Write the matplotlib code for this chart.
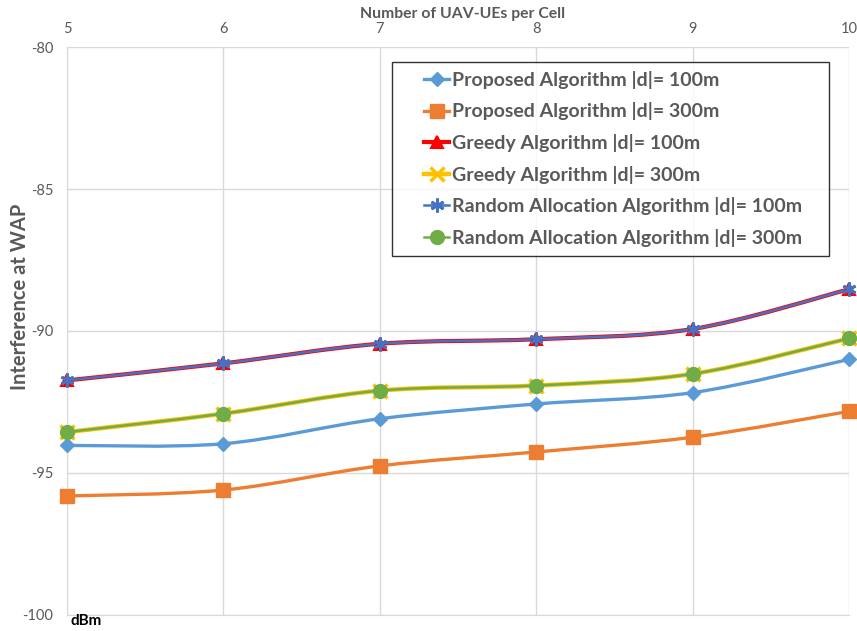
import numpy as np
import matplotlib
matplotlib.use("Agg")
import matplotlib.pyplot as plt
from matplotlib.path import Path
from matplotlib.patches import PathPatch
from matplotlib.lines import Line2D
from matplotlib.legend_handler import HandlerLine2D

plt.rcParams['font.family'] = ['Lato', 'DejaVu Sans']
plt.rcParams['axes.unicode_minus'] = False

# Number of UAV-UEs per cell
users = [5, 6, 7, 8, 9, 10]

# Interference at WAP (dBm)
proposed_100 = [-94.03, -93.97, -93.09, -92.57, -92.17, -91.00]
proposed_300 = [-95.81, -95.60, -94.75, -94.26, -93.74, -92.83]
greedy_100 = [-91.74, -91.14, -90.45, -90.29, -89.93, -88.53]
greedy_300 = [-93.56, -92.91, -92.10, -91.92, -91.51, -90.26]
random_100 = [-91.74, -91.14, -90.45, -90.29, -89.93, -88.53]
random_300 = [-93.56, -92.91, -92.10, -91.92, -91.51, -90.26]

labels = ['Proposed Algorithm |d|= 100m', 'Proposed Algorithm |d|= 300m',
          'Greedy Algorithm |d|= 100m', 'Greedy Algorithm |d|= 300m',
          'Random Allocation Algorithm |d|= 100m', 'Random Allocation Algorithm |d|= 300m']


def smooth_path(x, y, k=1/6):
    # Bezier segments through every point, like a spreadsheet "smoothed line"
    x = np.asarray(x, float)
    y = np.asarray(y, float)
    verts = [(x[0], y[0])]
    codes = [Path.MOVETO]
    n = len(x)
    for i in range(n - 1):
        p0 = (x[max(i - 1, 0)], y[max(i - 1, 0)])
        p1 = (x[i], y[i])
        p2 = (x[i + 1], y[i + 1])
        p3 = (x[min(i + 2, n - 1)], y[min(i + 2, n - 1)])
        c1 = (p1[0] + (p2[0] - p0[0]) * k, p1[1] + (p2[1] - p0[1]) * k)
        c2 = (p2[0] - (p3[0] - p1[0]) * k, p2[1] - (p3[1] - p1[1]) * k)
        verts += [c1, c2, p2]
        codes += [Path.CURVE4] * 3
    return Path(verts, codes)


class RightHandler(HandlerLine2D):
    # draw the legend key only in the right part of the handle box
    seg = 18.0

    def create_artists(self, legend, orig_handle, xdescent, ydescent,
                       width, height, fontsize, trans):
        shift = width - self.seg
        return super().create_artists(legend, orig_handle, xdescent - shift, ydescent,
                                      self.seg, height, fontsize, trans)


fig = plt.figure(figsize=(8.57, 6.31), dpi=100)
ax = fig.add_axes([0.0782, 0.0254, 0.9125, 0.9001])

series = [
    (proposed_100, '#5B9BD5', 2.4, dict(marker='D', ms=7, mfc='#5B9BD5', mec='#5B9BD5')),
    (proposed_300, '#ED7D31', 2.4, dict(marker='s', ms=10, mfc='#ED7D31', mec='#ED7D31')),
    (greedy_100, '#FF0000', 3.0, dict(marker='^', ms=9, mfc='#FF0000', mec='#FF0000', mew=1.5)),
    (greedy_300, '#FFC000', 3.2, dict(marker='x', ms=10, mfc='#FFC000', mec='#FFC000', mew=2.5)),
    (random_100, '#4472C4', 1.8, dict(marker=(6, 2, 0), ms=10, mfc='#4472C4', mec='#4472C4', mew=2)),
    (random_300, '#70AD47', 1.8, dict(marker='o', ms=10, mfc='#70AD47', mec='#70AD47')),
]

handles = []
for (vals, color, lw, mk), lab in zip(series, labels):
    ax.add_patch(PathPatch(smooth_path(users, vals), fill=False, edgecolor=color,
                           lw=lw, capstyle='round', joinstyle='round', zorder=3))
    ax.plot(users, vals, ls='none', zorder=4, clip_on=False, **mk)
    handles.append(Line2D([], [], color=color, lw=lw, **mk))

ax.set_xlim(5, 10)
ax.set_ylim(-100, -80)
ax.set_xticks(users)
ax.set_yticks([-100, -95, -90, -85, -80])
ax.xaxis.tick_top()
ax.tick_params(axis='both', length=0, labelsize=10.5, colors='#595959')
ax.tick_params(axis='x', pad=8)
ax.tick_params(axis='y', pad=10)
ax.grid(True, color='#D9D9D9', lw=1)
ax.set_axisbelow(True)
for s in ax.spines.values():
    s.set_visible(False)
ax.spines['left'].set_visible(True)
ax.spines['left'].set_color('#D9D9D9')
ax.spines['bottom'].set_visible(True)
ax.spines['bottom'].set_color('#D9D9D9')

fig.text(0.540, 0.978, 'Number of UAV-UEs per Cell', ha='center', va='center',
         fontsize=11.3, fontweight='bold', color='#595959')
fig.text(0.023, 0.53, 'Interference at WAP', rotation=90, ha='center', va='center',
         fontsize=14.5, fontweight='bold', color='#595959')
fig.text(0.082, 0.016, 'dBm', ha='left', va='center',
         fontsize=11, fontweight='bold', color='black')

leg = ax.legend(handles, labels, loc='upper left',
                bbox_to_anchor=(0.4156, 0.8736, 0.5588, 0.1), mode='expand',
                borderaxespad=0, frameon=True, fancybox=False, handlelength=2.5,
                handletextpad=0.15, labelspacing=0.7, borderpad=0.45,
                handler_map={Line2D: RightHandler()},
                prop={'weight': 'bold', 'size': 14})
leg.get_frame().set_edgecolor('black')
leg.get_frame().set_linewidth(1)
for t in leg.get_texts():
    t.set_color('#595959')

fig.savefig('out.png', dpi=100)
